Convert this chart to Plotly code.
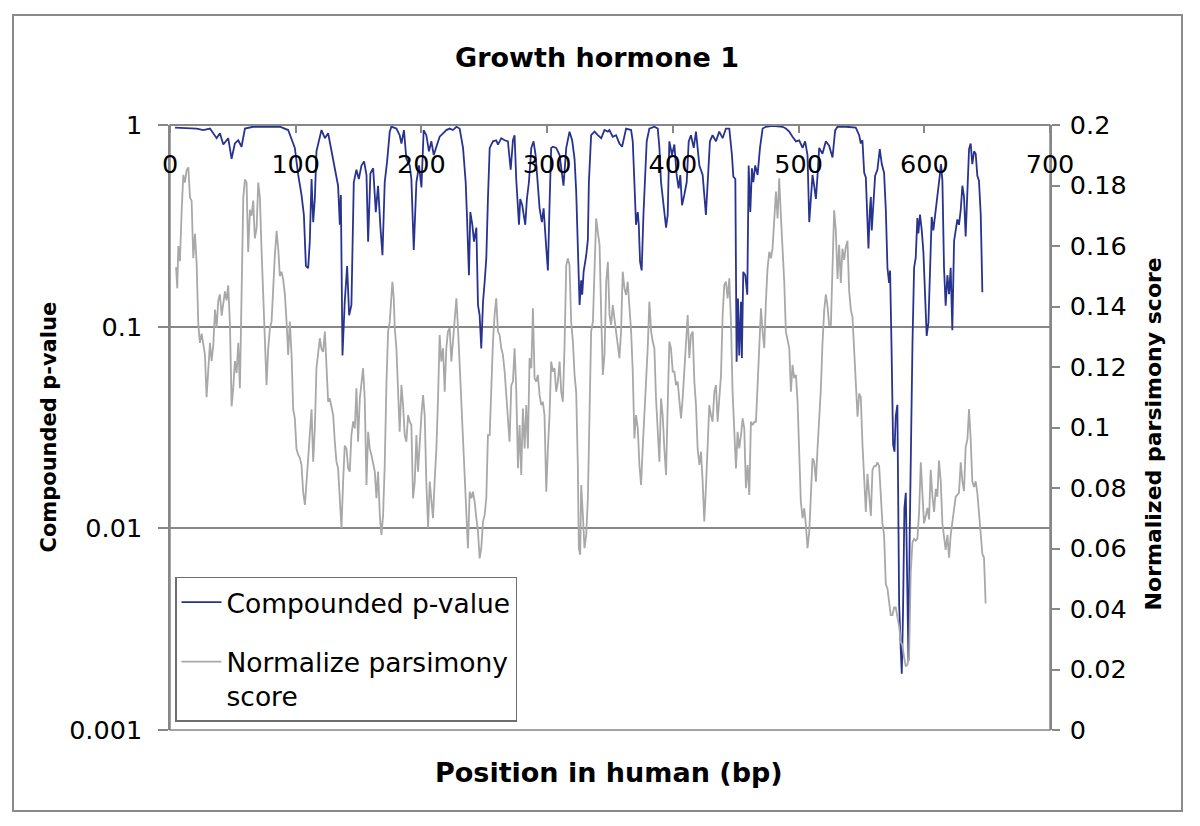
import plotly.graph_objects as go

# ---------------- data ----------------
blue_x = [4.0, 21.2, 26.5, 31.8, 37.1, 39.7, 42.4, 46.3, 49.0, 51.6, 54.3, 56.9, 59.6, 66.2, 76.8, 87.4,
          94.0, 96.7, 99.3, 102.0, 104.6, 106.5, 108.1, 109.9, 111.2, 112.6, 113.9, 115.2, 116.5, 120.5,
          123.2, 125.8, 128.5, 131.1, 133.7, 135.1, 135.9, 137.2, 139.0, 140.9, 142.5, 144.3, 146.2, 148.3,
          150.2, 152.3, 154.4, 156.3, 157.6, 159.4, 161.6, 163.7, 165.5, 167.4, 169.0, 170.8, 172.7, 174.8,
          176.1, 180.1, 182.7, 184.1, 186.1, 188.0, 190.7, 192.0, 193.9, 196.0, 198.1, 200.0, 201.8, 203.9,
          206.0, 207.9, 209.8, 211.9, 214.5, 217.2, 219.8, 222.5, 225.1, 227.8, 230.4, 233.1, 235.2, 236.2,
          237.8, 238.9, 240.5, 241.8, 243.7, 245.0, 246.3, 247.6, 249.0, 250.3, 251.6, 252.9, 254.3, 256.9,
          259.5, 260.9, 263.5, 266.2, 268.8, 271.0, 272.8, 274.1, 275.4, 277.6, 278.6, 280.2, 281.3, 282.6,
          283.9, 285.5, 287.4, 289.2, 290.8, 292.6, 294.0, 295.8, 297.2, 299.3, 300.6, 301.9, 303.2, 304.6,
          307.2, 309.9, 312.0, 313.0, 315.2, 317.8, 319.9, 321.8, 323.1, 325.0, 325.8, 327.1, 327.9, 329.0,
          331.1, 332.4, 333.2, 335.0, 337.7, 340.3, 343.0, 345.6, 348.3,
          349.5, 352.2, 354.8, 357.5, 359.6, 362.8, 366.8, 368.1, 369.4, 370.7, 372.1, 372.9, 373.9, 375.2,
          376.6, 377.9, 379.2, 381.3, 385.3, 388.0, 389.3, 390.6, 392.5, 394.6, 395.9, 397.2, 399.3, 401.2,
          403.0, 404.6, 405.9, 407.3, 409.1, 411.0, 412.6, 414.4, 416.6, 418.4, 421.1, 423.7, 426.3, 427.7,
          429.5, 431.6, 434.3, 436.9, 439.6, 442.2, 444.9, 447.0, 448.1, 449.7, 450.7, 451.8, 452.8, 454.2,
          454.9, 456.0, 457.6, 459.2, 460.3, 461.6, 462.9, 464.0, 465.5, 467.4, 469.3, 471.4, 474.0, 479.3,
          487.3, 489.9, 492.6, 495.2, 497.9, 500.5, 503.2, 505.2, 507.1, 508.5, 509.8, 511.1, 512.4, 513.8,
          515.1, 516.4,
          519.0, 521.7, 524.3, 527.0, 529.1, 531.0, 537.6, 545.5, 548.2, 549.5, 550.8, 552.2, 553.5, 554.8,
          555.6, 556.7, 557.5, 558.2, 559.6, 560.9, 562.7, 564.6, 566.2, 568.0, 569.4, 570.7, 572.0, 572.8,
          573.9, 575.2, 576.3, 577.3, 578.6, 580.0, 581.3, 582.1, 583.1, 584.2, 585.3, 586.3, 587.4, 588.4,
          589.5, 590.6, 591.9, 593.2, 594.5, 595.3, 596.6, 598.0, 599.3, 600.6, 601.9, 603.3, 604.6, 605.9,
          607.2, 608.6, 609.6, 610.7, 612.3, 613.3, 614.4, 615.7, 617.0, 618.4, 619.7, 621.0, 622.3, 623.7,
          625.0, 626.3, 627.6, 629.0, 630.3, 631.6, 632.9, 634.3, 635.6, 636.9, 638.2, 639.6, 640.9, 642.2,
          643.5, 644.9, 646.2]
blue_p = [0.97, 0.96, 0.944, 0.96, 0.86, 0.91, 0.80, 0.86, 0.68, 0.81, 0.84, 0.78, 0.96, 0.98, 0.98, 0.98,
          0.944, 0.86, 0.77, 0.565, 0.45, 0.358, 0.20, 0.195, 0.264, 0.54, 0.33, 0.43, 0.74, 0.944,
          0.86, 0.91, 0.74, 0.63, 0.50, 0.32, 0.45, 0.072, 0.133, 0.20, 0.114, 0.128, 0.52, 0.60,
          0.54, 0.63, 0.66, 0.565, 0.264, 0.575, 0.61, 0.37, 0.50, 0.31, 0.226, 0.52, 0.66, 0.927,
          0.98, 0.96, 0.89, 0.81, 0.944, 0.68, 0.63, 0.54, 0.24, 0.52, 0.63, 0.49, 0.944, 0.89,
          0.74, 0.83, 0.71, 0.78, 0.875, 0.91, 0.944, 0.96, 0.944, 0.98, 0.96, 0.77, 0.52, 0.358,
          0.18, 0.37, 0.32, 0.264, 0.31, 0.128, 0.114, 0.078, 0.133, 0.167, 0.218, 0.43, 0.77, 0.83,
          0.84, 0.80, 0.86, 0.84, 0.83, 0.60, 0.84, 0.89, 0.54, 0.32, 0.43, 0.40, 0.358, 0.32,
          0.43, 0.52, 0.77, 0.83, 0.71, 0.52, 0.386, 0.33, 0.386, 0.245, 0.19, 0.40, 0.77, 0.78,
          0.77, 0.71, 0.54, 0.50, 0.77, 0.927, 0.84, 0.68, 0.47, 0.21, 0.128, 0.17, 0.144, 0.187,
          0.226, 0.27, 0.52, 0.89, 0.927, 0.89, 0.86, 0.944, 0.927,
          0.944, 0.875, 0.89, 0.81, 0.78, 0.96, 0.944, 0.83, 0.52, 0.32, 0.37, 0.32, 0.21, 0.19,
          0.358, 0.52, 0.83, 0.96, 0.98, 0.96, 0.77, 0.52, 0.39, 0.31, 0.358, 0.83, 0.71, 0.80,
          0.565, 0.485, 0.565, 0.40, 0.45, 0.52, 0.83, 0.89, 0.77, 0.927, 0.63, 0.565, 0.358, 0.52,
          0.83, 0.89, 0.83, 0.927, 0.86, 0.96, 0.96, 0.71, 0.555, 0.54, 0.067, 0.138, 0.072, 0.133,
          0.070, 0.187, 0.18, 0.144, 0.63, 0.37, 0.61, 0.52, 0.63, 0.565, 0.77, 0.96, 0.98, 0.99,
          0.98, 0.96, 0.927, 0.875, 0.83, 0.84, 0.77, 0.83, 0.71, 0.33, 0.43, 0.565, 0.50, 0.43,
          0.565, 0.77,
          0.72, 0.83, 0.79, 0.69, 0.94, 0.98, 0.98, 0.97, 0.89, 0.81, 0.84, 0.58, 0.55, 0.33,
          0.244, 0.38, 0.44, 0.30, 0.43, 0.56, 0.60, 0.76, 0.64, 0.58, 0.38, 0.196, 0.165, 0.19,
          0.082, 0.026, 0.024, 0.036, 0.041, 0.0042, 0.0025, 0.0019, 0.0039, 0.0126, 0.015, 0.0048, 0.0022, 0.0093,
          0.034, 0.082, 0.196, 0.22, 0.346, 0.29, 0.36, 0.30, 0.234, 0.127, 0.09, 0.105, 0.18, 0.35,
          0.30, 0.35, 0.40, 0.44, 0.56, 0.64, 0.53, 0.196, 0.127, 0.18, 0.145, 0.196, 0.096, 0.266,
          0.30, 0.34, 0.32, 0.38, 0.50, 0.44, 0.28, 0.52, 0.76, 0.81, 0.64, 0.74, 0.72, 0.56,
          0.53, 0.36, 0.148]

gray_x = [4.8, 5.8, 6.6, 7.9, 9.3, 10.6, 11.9, 13.2, 14.6, 15.9, 17.2, 18.5, 19.9, 21.2, 22.5, 23.8,
          25.2, 26.5, 27.8, 29.1, 30.5, 31.8, 33.1, 34.4, 35.8, 37.1, 38.4, 39.7, 41.1, 42.4, 43.7, 45.0,
          46.3, 47.7, 49.0, 50.3, 51.6, 53.0, 54.3, 55.6, 56.9, 58.3, 59.6, 60.9, 62.2, 63.6, 64.9, 66.2,
          67.5, 68.9, 70.2, 71.5, 72.8, 74.2, 75.5, 76.8, 78.1, 79.5, 80.8, 82.1, 83.4, 84.8, 86.1, 87.4,
          88.7, 90.0, 91.4, 92.7, 94.0, 95.3, 96.7, 98.0, 99.3, 100.6, 101.9, 103.3, 104.6, 105.9, 107.3,
          108.6, 109.9, 111.2, 112.6, 113.9, 115.2, 116.5, 117.9, 119.2, 120.5, 121.8, 123.2, 124.5, 125.8,
          127.1, 128.5, 129.8, 131.1, 132.4, 133.7, 135.1, 136.4, 137.7, 139.0, 140.4, 141.7, 143.0, 144.3,
          145.7, 147.0, 148.3, 149.6, 151.0, 152.3, 153.6, 154.9, 156.3, 157.6, 158.9, 160.2, 161.6, 162.9,
          164.2, 165.5, 166.9, 168.2, 169.5, 170.8, 172.2, 173.5, 174.8,
          176.9, 178.0, 178.8, 180.1, 181.4, 182.7, 184.1, 185.4, 186.7, 188.0, 189.4, 190.7, 192.0, 193.3,
          194.7, 196.0, 197.3, 198.6, 200.0, 201.3, 202.6, 203.9, 205.3, 206.6, 207.9, 209.2, 210.5, 211.9,
          213.2, 214.5, 215.8, 217.2, 218.5, 219.8, 221.1, 222.5, 223.8, 225.1, 226.4, 227.8, 229.1, 230.4,
          231.7, 233.1, 234.4, 235.7, 237.0, 238.4, 239.7, 241.0, 242.3, 243.7, 245.0, 246.3, 247.6, 249.0,
          250.3, 251.6, 252.9, 254.3, 255.6, 256.9, 258.2, 259.5, 260.9, 262.2, 263.5, 264.8, 266.2, 267.5,
          268.8, 270.1, 271.5, 272.8, 274.1, 275.4, 276.8, 278.1, 279.4, 280.7, 282.1, 283.4, 284.7, 286.0,
          287.4, 288.7, 290.0, 291.3, 292.6, 294.0, 295.3, 296.6, 297.9, 299.3, 300.6, 301.9, 303.2, 304.6,
          305.9, 307.2, 308.5, 309.9, 311.2, 312.5, 313.8, 315.2, 316.5, 317.8, 319.1, 320.5, 321.8, 323.1,
          324.4, 325.2, 326.3, 327.1, 328.4, 329.7, 331.1, 332.4, 333.7, 335.0, 336.4, 337.7, 339.0, 340.3,
          341.7, 343.0, 344.3, 345.6, 347.0, 348.3, 349.6,
          350.9, 352.2, 353.5, 354.8, 356.2, 357.5, 358.8, 360.1, 361.5, 362.8, 364.1, 365.4, 366.8, 368.1,
          369.4, 370.7, 372.1, 373.4, 374.7, 376.0, 377.4, 378.7, 380.0, 381.3, 382.7, 384.0, 385.3, 386.6,
          387.9, 389.3, 390.6, 391.9, 393.2, 394.6, 395.9, 397.2, 398.5, 399.9, 401.2, 402.5, 403.8, 405.2,
          406.5, 407.8, 409.1, 410.5, 411.8, 413.1, 414.4, 415.8, 417.1, 418.4, 419.7, 421.1, 422.4, 423.7,
          425.0, 426.4, 427.7, 429.0, 430.3, 431.6, 433.0, 434.3, 435.6, 436.9, 438.3, 439.6, 440.9, 442.2,
          443.6, 444.9, 446.2, 447.5, 448.9, 450.2, 451.5, 452.8, 454.2, 455.5, 456.8, 458.1, 459.5, 460.8,
          462.1, 463.4, 464.8, 466.1, 467.4, 468.7, 470.1, 471.4, 472.7, 474.0, 475.3, 476.7, 478.0, 479.3,
          480.6, 482.0, 483.3, 484.6, 485.9, 487.3, 488.6, 489.9, 491.2, 492.6, 493.9, 495.2, 496.5, 497.9,
          499.2, 500.5, 501.8, 503.2, 504.5, 505.8, 507.1, 508.5, 509.8, 511.1, 512.4, 513.8, 515.1,
          517.7, 519.0, 520.4, 521.7, 523.0, 524.3, 525.7, 527.0, 528.3, 529.6, 531.0, 532.3, 533.6, 534.9,
          536.3, 537.6, 538.9, 540.2, 541.6, 542.9, 544.2, 545.5, 546.9, 548.2, 549.5, 550.8, 552.2, 553.5,
          554.8, 556.1, 557.5, 558.8, 560.1, 561.4, 562.7, 564.1, 565.4, 566.7, 568.0, 569.4, 570.7, 572.0,
          573.3, 574.7, 576.0, 577.3, 578.6, 580.0, 581.3, 582.6, 583.9, 585.3, 586.6, 587.9, 589.2, 590.6,
          591.9, 593.2, 594.5, 595.9, 597.2, 598.5, 599.8, 601.2, 602.5, 603.8, 605.1, 606.5, 607.8, 609.1,
          610.4, 611.7, 613.1, 614.4, 615.7, 617.0, 618.4, 619.7, 621.0, 622.3, 623.7, 625.0, 626.3, 627.6,
          629.0, 630.3, 631.6, 632.9, 634.3, 635.6, 636.9, 638.2, 639.6, 640.9, 642.2, 643.5, 644.9, 646.2,
          647.5, 648.8]
gray_v = [0.153, 0.146, 0.160, 0.155, 0.172, 0.1835, 0.181, 0.185, 0.186, 0.176, 0.175, 0.156, 0.164, 0.154, 0.134, 0.128,
          0.131, 0.127, 0.124, 0.110, 0.118, 0.128, 0.122, 0.127, 0.139, 0.133, 0.142, 0.144, 0.137, 0.142, 0.145, 0.142,
          0.147, 0.134, 0.107, 0.113, 0.122, 0.118, 0.128, 0.113, 0.148, 0.176, 0.182, 0.181, 0.158, 0.172, 0.170, 0.175,
          0.1625, 0.166, 0.181, 0.176, 0.159, 0.143, 0.132, 0.114, 0.126, 0.133, 0.135, 0.148, 0.157, 0.165, 0.159, 0.150,
          0.1515, 0.149, 0.144, 0.135, 0.124, 0.135, 0.124, 0.106, 0.103, 0.093, 0.091, 0.090, 0.0876, 0.0788, 0.0744,
          0.082, 0.090, 0.101, 0.106, 0.0887, 0.0997, 0.1196, 0.126, 0.1295, 0.126, 0.125, 0.1317, 0.1207, 0.1085,
          0.1096, 0.106, 0.104, 0.0953, 0.0887, 0.0865, 0.0766, 0.0667, 0.082, 0.094, 0.093, 0.0865, 0.0854, 0.0975,
          0.102, 0.0997, 0.113, 0.0953, 0.1096, 0.115, 0.1196, 0.1096, 0.081, 0.0986, 0.093, 0.091, 0.0876, 0.0854,
          0.0766, 0.0854, 0.071, 0.0645, 0.071, 0.0876, 0.115, 0.1317, 0.135,
          0.1482, 0.1427, 0.1328, 0.1262, 0.1140, 0.0986, 0.1140, 0.1074, 0.0975, 0.0953, 0.1041, 0.1019, 0.1008, 0.0766,
          0.0821, 0.0975, 0.0854, 0.0953, 0.1041, 0.1107, 0.1041, 0.0821, 0.0667, 0.0821, 0.0766, 0.0700, 0.0821, 0.0931,
          0.1096, 0.1306, 0.1218, 0.1262, 0.1118, 0.1262, 0.1317, 0.1328, 0.1218, 0.1284, 0.1350, 0.1427, 0.1328, 0.1207,
          0.1085, 0.0986, 0.0876, 0.0709, 0.0601, 0.0788, 0.0766, 0.0788, 0.0755, 0.0700, 0.0656, 0.0567, 0.0601, 0.0689,
          0.0711, 0.0766, 0.0975, 0.0975, 0.1152, 0.1284, 0.1372, 0.1427, 0.1317, 0.1306, 0.1262, 0.1240, 0.1185, 0.1107,
          0.1063, 0.0953, 0.1140, 0.1152, 0.1262, 0.1129, 0.0865, 0.1008, 0.0843, 0.1063, 0.0931, 0.1074, 0.0931, 0.1229,
          0.1196, 0.1394, 0.1163, 0.1152, 0.1174, 0.1107, 0.1074, 0.1085, 0.1041, 0.0788, 0.0931, 0.1041, 0.1218, 0.1185,
          0.1196, 0.1118, 0.1152, 0.1218, 0.1118, 0.1085, 0.1262, 0.1537, 0.1559, 0.1537, 0.1350, 0.1284, 0.1174, 0.1118,
          0.0876, 0.0601, 0.0579, 0.0810, 0.0711, 0.0601, 0.0645, 0.0766, 0.1041, 0.1317, 0.1350, 0.1537, 0.1691, 0.1647,
          0.1603, 0.1372, 0.1174, 0.1240, 0.1482, 0.1548, 0.1372,
          0.1339, 0.1405, 0.1361, 0.1317, 0.1273, 0.1229, 0.1317, 0.1515, 0.1460, 0.1438, 0.1482, 0.1416, 0.1317, 0.1185,
          0.0964, 0.1041, 0.0997, 0.0876, 0.0810, 0.0931, 0.1041, 0.1174, 0.1262, 0.1416, 0.1317, 0.1284, 0.1262, 0.1096,
          0.0975, 0.0887, 0.1096, 0.1041, 0.0931, 0.0843, 0.1074, 0.1284, 0.1262, 0.1185, 0.1185, 0.1140, 0.1152, 0.1096,
          0.1030, 0.1096, 0.1185, 0.1306, 0.1372, 0.1229, 0.1306, 0.1317, 0.1152, 0.1074, 0.0931, 0.0876, 0.0920, 0.0821,
          0.0689, 0.0810, 0.0942, 0.1074, 0.1041, 0.1019, 0.1118, 0.1140, 0.1019, 0.1096, 0.1174, 0.1372, 0.1471, 0.1482,
          0.1427, 0.1493, 0.1350, 0.1118, 0.0986, 0.0865, 0.0986, 0.0931, 0.0975, 0.1030, 0.0997, 0.0799, 0.0876, 0.0777,
          0.1019, 0.1008, 0.1019, 0.1019, 0.1140, 0.1240, 0.1394, 0.1317, 0.1262, 0.1416, 0.1526, 0.1581, 0.1559, 0.1592,
          0.1669, 0.1780, 0.1691, 0.1824, 0.1702, 0.1592, 0.1482, 0.1317, 0.1295, 0.1262, 0.1118, 0.1207, 0.1163, 0.1174,
          0.1085, 0.0931, 0.0755, 0.0700, 0.0733, 0.0678, 0.0601, 0.0656, 0.0799, 0.0898, 0.0887, 0.0821, 0.0931,
          0.1125, 0.1276, 0.1389, 0.1440, 0.1402, 0.1339, 0.1339, 0.1528, 0.1718, 0.1655, 0.1491, 0.1604, 0.1478, 0.1591,
          0.1554, 0.1598, 0.1617, 0.1453, 0.1389, 0.1364, 0.1251, 0.1150, 0.1036, 0.1112, 0.1100, 0.0948, 0.0847, 0.0721,
          0.0847, 0.0771, 0.0708, 0.0860, 0.0872, 0.0872, 0.0885, 0.0872, 0.0771, 0.0683, 0.0645, 0.0481, 0.0468, 0.0431,
          0.0380, 0.0380, 0.0405, 0.0405, 0.0380, 0.0342, 0.0292, 0.0279, 0.0241, 0.0210, 0.0216, 0.0241, 0.0519, 0.0620,
          0.0632, 0.0626, 0.0632, 0.0721, 0.0885, 0.0797, 0.0683, 0.0708, 0.0734, 0.0696, 0.0860, 0.0771, 0.0721, 0.0797,
          0.0771, 0.0891, 0.0822, 0.0683, 0.0632, 0.0595, 0.0645, 0.0570, 0.0645, 0.0683, 0.0721, 0.0771, 0.0777, 0.0784,
          0.0885, 0.0822, 0.0790, 0.0935, 0.0961, 0.1061, 0.0961, 0.0822, 0.0803, 0.0822, 0.0784, 0.0708, 0.0658, 0.0582,
          0.0570, 0.0418]

left_ticks = [0.001, 0.01, 0.1, 1]
left_ticktext = ["0.001", "0.01", "0.1", "1"]
right_ticks = [0, 0.02, 0.04, 0.06, 0.08, 0.1, 0.12, 0.14, 0.16, 0.18, 0.2]
right_ticktext = ["0", "0.02", "0.04", "0.06", "0.08", "0.1", "0.12", "0.14", "0.16", "0.18", "0.2"]
x_ticks = [0, 100, 200, 300, 400, 500, 600, 700]

BLUE = "#28338f"
GRAY = "#a8a8a8"
AXIS = "#878787"
FONT = "DejaVu Sans"

fig = go.Figure()
fig.add_trace(go.Scatter(
    x=gray_x, y=gray_v, yaxis="y2", mode="lines",
    name="Normalize parsimony<br>score", legendrank=2, legendgroup="b",
    line=dict(color=GRAY, width=1.8)))
fig.add_trace(go.Scatter(
    x=blue_x, y=blue_p, yaxis="y", mode="lines",
    name="Compounded p-value", legendrank=1, legendgroup="a",
    line=dict(color=BLUE, width=1.8)))

fig.update_layout(
    width=1184, height=810,
    margin=dict(l=162, r=142, t=117, b=88),
    paper_bgcolor="white", plot_bgcolor="white",
    font=dict(family=FONT, size=25, color="black"),
    xaxis=dict(range=[0, 700], tickvals=x_ticks, anchor="free", position=1, side="bottom",
               showgrid=False, zeroline=False, showline=True, linecolor=AXIS, linewidth=1.5,
               ticks="outside", ticklen=7, tickcolor=AXIS, tickwidth=1.5,
               ticklabelstandoff=10, tickfont=dict(size=25.5)),
    yaxis=dict(type="log", range=[-3, 0], tickvals=left_ticks, ticktext=left_ticktext,
               showgrid=True, gridcolor=AXIS, gridwidth=1.5, zeroline=False,
               showline=True, linecolor=AXIS, linewidth=1.5,
               ticks="outside", ticklen=10, tickcolor=AXIS, tickwidth=1.5,
               ticklabelstandoff=11, tickfont=dict(size=25.5)),
    yaxis2=dict(range=[0, 0.2], tickvals=right_ticks, ticktext=right_ticktext,
                overlaying="y", side="right", anchor="x",
                showgrid=False, zeroline=False, showline=True, linecolor=AXIS, linewidth=1.5,
                ticks="outside", ticklen=8, tickcolor=AXIS, tickwidth=1.5,
                ticklabelstandoff=5, tickfont=dict(size=25.5)),
    yaxis3=dict(range=[0, 0.2], tickvals=right_ticks, overlaying="y", side="right", anchor="x",
                showgrid=False, zeroline=False, showline=False, showticklabels=False,
                ticks="inside", ticklen=8, tickcolor=AXIS, tickwidth=1.5),
    legend=dict(x=0.0057, y=0.253, xanchor="left", yanchor="top",
                bordercolor="#6f6f6f", borderwidth=1.5, bgcolor="white",
                font=dict(size=26.5, family=FONT), valign="top",
                traceorder="grouped", tracegroupgap=22, itemwidth=40),
    showlegend=True,
    shapes=[
        dict(type="rect", xref="paper", yref="paper", x0=0, y0=0, x1=1, y1=1,
             line=dict(color=AXIS, width=1.5), layer="below"),
        dict(type="rect", xref="paper", yref="paper", x0=-0.1784, y0=-0.1339, x1=1.15, y1=1.1818,
             line=dict(color="#8a8a8a", width=2), layer="below"),
    ],
    annotations=[
        dict(text="<b>Growth hormone 1</b>", xref="paper", yref="paper", x=0.485, y=1.112,
             showarrow=False, xanchor="center", yanchor="middle", font=dict(size=27)),
        dict(text="<b>Compounded p-value</b>", xref="paper", yref="paper", x=-0.1386, y=0.50,
             showarrow=False, textangle=-90, xanchor="center", yanchor="middle", font=dict(size=21)),
        dict(text="<b>Normalized parsimony score</b>", xref="paper", yref="paper", x=1.118, y=0.49,
             showarrow=False, textangle=-90, xanchor="center", yanchor="middle", font=dict(size=22)),
        dict(text="<b>Position in human (bp)</b>", xref="paper", yref="paper", x=0.499, y=-0.071,
             showarrow=False, xanchor="center", yanchor="middle", font=dict(size=27)),
    ],
)

fig.write_html("out.html")
